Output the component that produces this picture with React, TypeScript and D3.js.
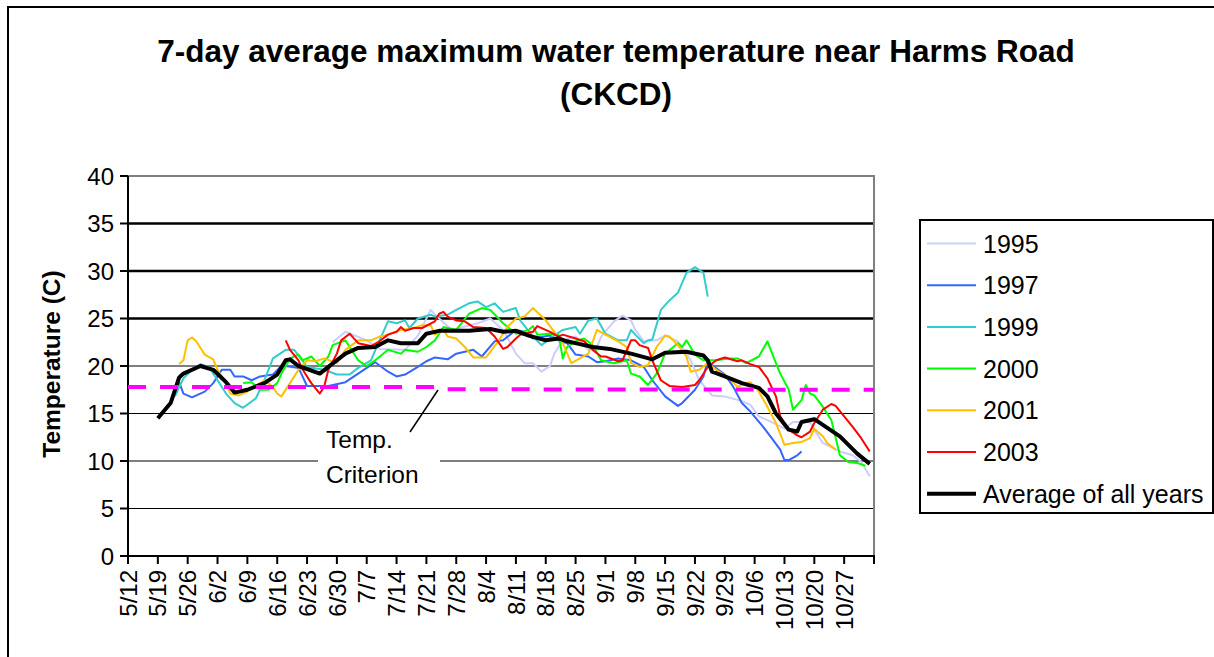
import React, { useEffect, useRef } from 'react';
import * as d3 from 'd3';

// day index 0 = 5/12
const tickLabels = ['5/12', '5/19', '5/26', '6/2', '6/9', '6/16', '6/23', '6/30', '7/7', '7/14', '7/21', '7/28', '8/4', '8/11', '8/18', '8/25', '9/1', '9/8', '9/15', '9/22', '9/29', '10/6', '10/13', '10/20', '10/27'];
const yTicks = [0, 5, 10, 15, 20, 25, 30, 35, 40];

const y1995 = [[48,22.5],[51,23.6],[56,22.7],[59,21.8],[65,21.7],[68,23.2],[71,25.9],[72,25.4],[76,23.8],[82,24.5],[85,25.0],[88,23.8],[91,21.3],[93,20.3],[95,20.3],[97,19.4],[99,20.0],[100,21.3],[102,22.7],[105,23.1],[108,21.7],[110,22.0],[111,23.1],[114,24.7],[116,25.3],[118,24.8],[119,23.8],[121,22.6],[124,22.7],[126,23.2],[129,22.6],[132,20.6],[134,18.5],[137,16.9],[140,16.8],[144,16.3],[146,15.9],[148,14.7],[151,14.1],[154,13.4],[156,14.1],[160,14.1],[161,13.3],[163,11.9],[167,11.0],[170,10.6],[172,9.9],[174,8.4]];
const y1997 = [[12,18.3],[13,17.1],[15,16.7],[18,17.3],[20,18.2],[22,19.6],[24,19.6],[25,18.9],[27,18.9],[29,18.5],[31,18.9],[34,19.1],[36,20.0],[37,20.0],[40,19.8],[42,17.9],[47,17.9],[51,18.3],[54,19.2],[58,20.4],[61,19.4],[63,18.9],[65,19.1],[68,19.9],[70,20.5],[72,20.9],[75,20.7],[77,21.3],[81,21.7],[83,21.0],[86,22.6],[88,22.7],[91,23.8],[93,23.6],[95,22.9],[99,23.2],[101,22.7],[103,22.4],[105,21.2],[108,21.0],[110,20.4],[112,20.5],[115,20.8],[118,20.6],[121,19.9],[123,18.5],[126,16.8],[129,15.8],[130,16.1],[133,17.5],[135,18.9],[136,20.6],[137,20.1],[140,19.1],[142,17.8],[144,16.1],[146,15.2],[149,13.6],[151,12.4],[153,11.2],[154,10.1],[155,10.1],[157,10.6],[158,11.0]];
const y1999 = [[11,16.8],[13,18.7],[15,19.6],[17,20.2],[19,19.9],[21,18.5],[23,17.1],[25,16.1],[27,15.6],[30,16.6],[32,18.5],[34,20.8],[37,21.7],[39,21.7],[42,19.9],[46,19.6],[49,19.1],[52,19.1],[54,19.8],[57,20.6],[59,22.7],[61,24.7],[63,24.5],[65,24.8],[66,24.0],[68,25.0],[71,25.4],[72,25.2],[75,25.4],[77,25.9],[80,26.6],[82,26.8],[84,26.2],[86,26.6],[88,25.7],[91,26.1],[92,24.8],[95,23.1],[97,22.2],[99,22.9],[102,23.8],[105,24.1],[106,23.4],[108,24.8],[110,25.0],[112,23.4],[115,22.7],[117,22.7],[118,23.8],[119,23.3],[121,22.4],[122,22.7],[123,22.8],[125,25.9],[127,26.9],[129,27.7],[131,29.8],[133,30.4],[135,29.8],[136,27.3]];
const y2000 = [[27,18.2],[29,18.3],[31,17.5],[33,17.5],[35,18.2],[36,19.2],[38,20.8],[40,21.2],[41,20.6],[43,21.0],[45,20.0],[47,21.0],[48,22.2],[51,22.7],[54,20.6],[56,20.0],[58,20.6],[61,21.7],[64,21.3],[65,21.7],[68,21.5],[70,22.0],[72,22.7],[73,23.4],[74,24.1],[77,23.8],[80,25.5],[83,26.1],[85,25.9],[88,24.5],[91,23.4],[94,23.8],[95,24.2],[96,23.3],[99,23.4],[101,23.3],[102,20.8],[103,22.0],[105,22.6],[107,22.9],[109,22.2],[111,20.6],[114,20.3],[117,20.6],[118,19.2],[120,18.9],[122,18.0],[124,19.2],[126,21.3],[129,22.4],[130,22.0],[131,22.7],[133,21.2],[135,20.6],[138,20.6],[141,20.8],[143,20.8],[145,20.3],[148,21.0],[150,22.6],[152,20.3],[153,19.2],[155,17.5],[156,15.4],[158,16.4],[159,18.0],[160,17.1],[161,16.9],[163,15.7],[165,14.3],[167,10.6],[169,9.9],[171,9.8],[173,9.5]];
const y2001 = [[12,20.2],[13,20.6],[14,22.7],[15,23.0],[16,22.6],[18,21.2],[20,20.7],[21,19.6],[23,18.2],[24,17.1],[26,16.9],[28,17.3],[31,18.2],[32,18.5],[34,17.8],[35,17.1],[36,16.8],[38,18.2],[40,19.6],[42,20.6],[44,20.5],[46,20.8],[49,20.3],[51,21.7],[54,22.7],[57,22.7],[59,23.1],[61,23.3],[64,23.8],[67,24.0],[69,24.3],[71,24.3],[72,23.3],[74,23.8],[75,23.1],[77,22.9],[79,22.0],[81,20.9],[84,20.9],[87,22.7],[89,24.1],[91,25.0],[93,25.2],[95,26.1],[98,24.8],[100,23.6],[102,22.4],[104,20.3],[106,20.8],[108,21.3],[110,23.8],[112,23.3],[115,22.6],[117,22.0],[118,20.3],[120,19.9],[122,20.1],[124,22.0],[126,23.2],[127,23.1],[129,22.2],[131,21.0],[132,19.4],[134,19.6],[136,20.3],[138,19.6],[141,18.7],[143,17.8],[145,18.2],[146,18.3],[148,17.3],[150,15.7],[152,14.0],[154,11.7],[156,11.9],[158,12.0],[160,12.4],[161,13.4],[163,12.6],[164,11.9],[166,11.2]];
const y2003 = [[37,22.7],[38,21.7],[40,20.6],[41,19.6],[43,18.2],[45,17.1],[46,17.8],[47,19.6],[49,21.3],[50,22.7],[52,23.4],[54,22.4],[57,22.1],[59,22.6],[61,23.3],[63,23.6],[64,24.1],[65,23.7],[67,24.0],[69,24.0],[72,24.7],[73,25.5],[74,25.7],[75,25.2],[77,24.8],[79,24.7],[81,24.1],[84,24.0],[86,23.1],[88,21.8],[89,22.0],[91,22.9],[92,23.3],[95,23.6],[96,24.2],[99,23.6],[101,23.1],[102,23.3],[105,22.9],[107,22.6],[109,21.7],[111,21.0],[112,21.0],[115,20.5],[116,20.6],[118,22.7],[119,22.7],[120,22.2],[122,21.9],[123,20.6],[125,18.5],[127,17.9],[130,17.8],[133,18.0],[134,18.5],[136,19.9],[138,20.6],[140,20.9],[143,20.5],[144,20.6],[146,20.2],[148,19.9],[150,18.7],[152,16.8],[153,14.7],[155,13.3],[157,12.7],[158,12.5],[160,13.1],[161,14.0],[163,15.4],[165,16.0],[166,15.8],[168,14.7],[170,13.6],[172,12.4],[174,11.0]];
const yAvg = [[7,14.5],[10,16.1],[12,18.8],[13,19.2],[17,20.0],[20,19.6],[23,18.3],[25,17.2],[28,17.5],[32,18.2],[35,19.1],[37,20.6],[38,20.7],[40,20.0],[45,19.2],[47,19.9],[51,21.3],[54,21.9],[58,22.0],[61,22.7],[64,22.4],[68,22.4],[70,23.4],[73,23.7],[80,23.7],[85,23.9],[88,23.6],[91,23.7],[94,23.2],[98,22.7],[101,22.9],[103,22.6],[106,22.3],[109,22.0],[113,21.8],[118,21.3],[123,20.7],[126,21.4],[131,21.5],[135,21.1],[136,20.6],[137,19.4],[140,18.9],[144,18.2],[148,17.7],[150,16.8],[152,15.0],[155,13.3],[157,13.1],[158,14.1],[161,14.4],[163,13.8],[167,12.6],[169,11.7],[171,10.8],[174,9.7]];
const criterion = [[0,17.8],[72,17.8],[74,17.55],[175,17.5]];

const series = [
  { name: '1995', data: y1995, color: '#CCCCFF', width: 2 },
  { name: '1997', data: y1997, color: '#3366FF', width: 2 },
  { name: '1999', data: y1999, color: '#33CCCC', width: 2 },
  { name: '2000', data: y2000, color: '#00FF00', width: 2 },
  { name: '2001', data: y2001, color: '#FFC000', width: 2 },
  { name: '2003', data: y2003, color: '#FF0000', width: 2 },
  { name: 'Average of all years', data: yAvg, color: '#000000', width: 4 },
];

const FONT = '"Liberation Sans", Arial, sans-serif';

export default function App() {
  const ref = useRef<SVGSVGElement>(null);

  useEffect(() => {
    const svg = d3.select(ref.current);
    svg.selectAll('*').remove();

    const x = d3.scaleLinear().domain([0, 175]).range([128, 874]);
    const y = d3.scaleLinear().domain([0, 40]).range([556, 176]);

    // outer chart border
    svg.append('rect')
      .attr('x', 8).attr('y', 7).attr('width', 1230).attr('height', 700)
      .attr('fill', 'white').attr('stroke', 'black').attr('stroke-width', 2);

    // title
    const title = svg.append('text')
      .attr('text-anchor', 'middle')
      .style('font-family', FONT).style('font-weight', 'bold').style('font-size', '31.5px');
    title.append('tspan').attr('x', 616).attr('y', 62).text('7-day average maximum water temperature near Harms Road');
    title.append('tspan').attr('x', 616).attr('y', 105).text('(CKCD)');

    // gridlines
    svg.append('g').selectAll('line')
      .data(yTicks.filter(d => d > 0 && d < 40))
      .enter().append('line')
      .attr('x1', x(0)).attr('x2', x(175))
      .attr('y1', d => y(d)).attr('y2', d => y(d))
      .attr('stroke', 'black')
      .attr('stroke-width', d => (d >= 25 ? 2.5 : 1.2));

    // plot border (gray top/right)
    svg.append('path')
      .attr('d', `M${x(0)},${y(40)}H${x(175)}V${y(0)}`)
      .attr('fill', 'none').attr('stroke', '#808080').attr('stroke-width', 2);

    // temp criterion label with white background
    svg.append('rect')
      .attr('x', 318).attr('y', 425).attr('width', 122).attr('height', 68)
      .attr('fill', 'white');
    svg.append('line')
      .attr('x1', 410).attr('y1', 432).attr('x2', 438).attr('y2', 390)
      .attr('stroke', 'black').attr('stroke-width', 1.5);
    const lab = svg.append('text').style('font-family', FONT).style('font-size', '24.5px').attr('fill', 'black');
    lab.append('tspan').attr('x', 326).attr('y', 448).text('Temp.');
    lab.append('tspan').attr('x', 326).attr('y', 483).text('Criterion');

    // axes
    svg.append('line')
      .attr('x1', x(0)).attr('x2', x(0)).attr('y1', y(40)).attr('y2', y(0))
      .attr('stroke', 'black').attr('stroke-width', 2);
    svg.append('line')
      .attr('x1', x(0) - 1).attr('x2', x(175) + 1).attr('y1', y(0)).attr('y2', y(0))
      .attr('stroke', 'black').attr('stroke-width', 2);

    const yg = svg.append('g');
    yg.selectAll('line').data(yTicks).enter().append('line')
      .attr('x1', x(0) - 8).attr('x2', x(0))
      .attr('y1', d => y(d)).attr('y2', d => y(d))
      .attr('stroke', 'black').attr('stroke-width', 2);
    yg.selectAll('text').data(yTicks).enter().append('text')
      .attr('x', x(0) - 14).attr('y', d => y(d)).attr('dy', '0.36em')
      .attr('text-anchor', 'end')
      .style('font-family', FONT).style('font-size', '24px')
      .text(d => d);

    const xTicks = d3.range(0, 176, 7);
    const xg = svg.append('g');
    xg.selectAll('line').data(xTicks).enter().append('line')
      .attr('x1', d => x(d)).attr('x2', d => x(d))
      .attr('y1', y(0)).attr('y2', y(0) + 8)
      .attr('stroke', 'black').attr('stroke-width', 2);
    xg.selectAll('text').data(tickLabels).enter().append('text')
      .attr('transform', (d, i) => `translate(${x(i * 7)},${y(0) + 14}) rotate(-90)`)
      .attr('dy', '0.36em')
      .attr('text-anchor', 'end')
      .style('font-family', FONT).style('font-size', '24px')
      .text(d => d);

    // y axis title
    svg.append('text')
      .attr('transform', `translate(60,${y(20) - 2}) rotate(-90)`)
      .attr('text-anchor', 'middle')
      .style('font-family', FONT).style('font-weight', 'bold').style('font-size', '24.5px')
      .text('Temperature (C)');

    // series
    const line = d3.line<number[]>().x(d => x(d[0])).y(d => y(d[1]));
    const lines = svg.append('g');
    series.forEach(s => {
      lines.append('path')
        .attr('d', line(s.data as any))
        .attr('fill', 'none')
        .attr('stroke', s.color)
        .attr('stroke-width', s.width)
        .attr('stroke-linejoin', 'round');
    });
    lines.append('path')
      .attr('d', line(criterion as any))
      .attr('fill', 'none')
      .attr('stroke', '#FF00FF')
      .attr('stroke-width', 4)
      .attr('stroke-dasharray', '18,14');

    // legend
    const lg = svg.append('g');
    lg.append('rect')
      .attr('x', 920).attr('y', 220).attr('width', 293).attr('height', 293)
      .attr('fill', 'white').attr('stroke', 'black').attr('stroke-width', 2);
    series.forEach((s, i) => {
      const ly = 243.5 + i * 41.7;
      lg.append('line')
        .attr('x1', 927).attr('x2', 976).attr('y1', ly).attr('y2', ly)
        .attr('stroke', s.color).attr('stroke-width', s.width === 4 ? 4 : 2);
      lg.append('text')
        .attr('x', 983).attr('y', ly).attr('dy', '0.36em')
        .style('font-family', FONT).style('font-size', '25px')
        .text(s.name);
    });
  }, []);

  return (
    <svg ref={ref} width={1214} height={657}
      style={{ position: 'absolute', left: 0, top: 0, background: 'white' }} />
  );
}
